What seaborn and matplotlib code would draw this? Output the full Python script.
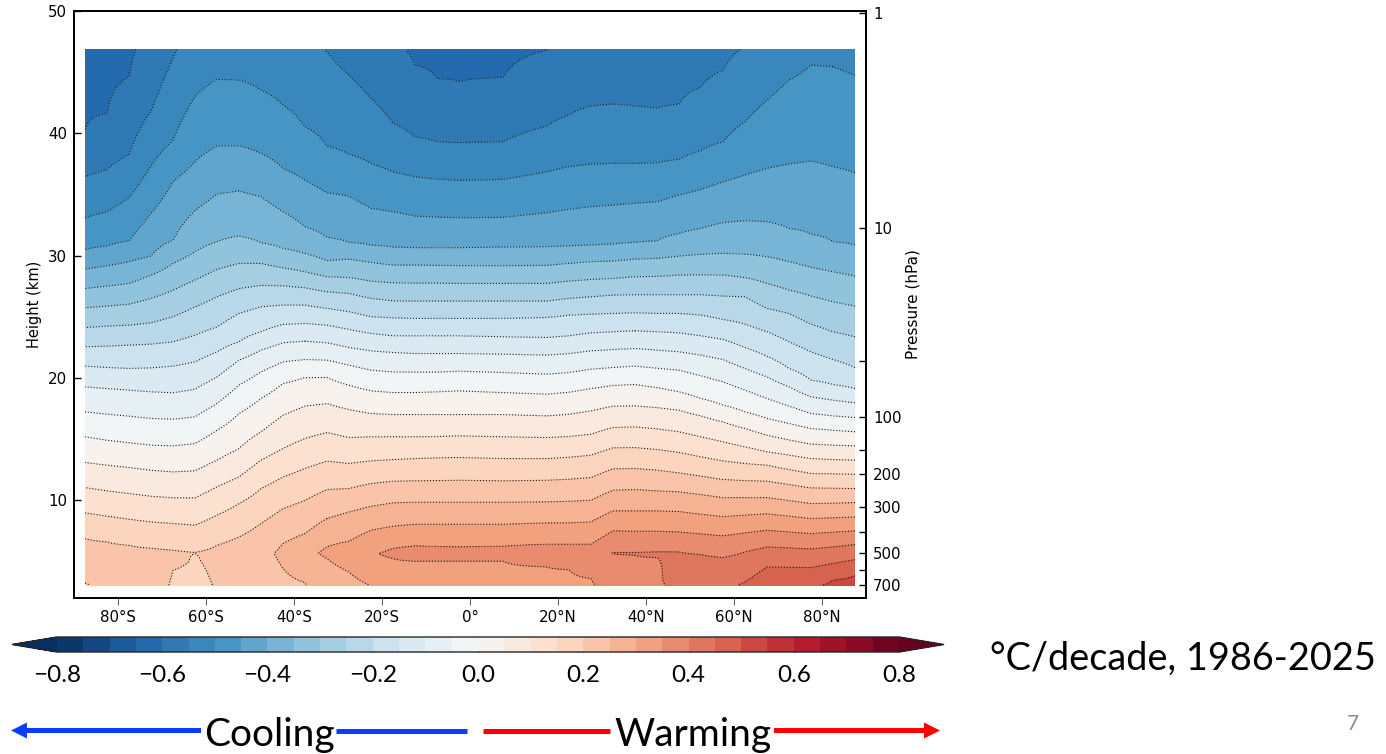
import numpy as np
import matplotlib
matplotlib.use("Agg")
import matplotlib.pyplot as plt
from matplotlib.patches import FancyArrowPatch
from matplotlib.lines import Line2D
import seaborn as sns

nan = np.nan
lats = [-87.5, -77.5, -67.5, -62.5, -57.5, -52.5, -47.5, -42.5, -37.5, -32.5, -22.5, -12.5,
        -2.5, 7.5, 17.5, 27.5, 32.5, 37.5, 42.5, 47.5, 57.5, 67.5, 77.5, 87.5]

# Heights (km) of each trend contour, read per latitude column
iso_m60 = [40.21, 44.63, 53.5, 55, 56, 56, 56, 56, 55, 53, 49.5, 45.58, 44.22, 44.57, 46.8, 49.5, 51, 52, 53, 54, 56, 58, 58, 58]
iso_m55 = [36.45, 38.3, 46.16, 50.46, 52.5, 53, 52, 50.4, 48.5, 46.67, 42.86, 39.72, 39.23, 39.31, 40.59, 42.23, 42.39, 42.23, 42.04, 42.39, 45.17, 49.15, 51, 52]
iso_m50 = [33.09, 34.73, 39.45, 43.0, 44.41, 44.36, 43.54, 42.31, 40.54, 38.96, 37.54, 36.45, 36.15, 36.23, 36.86, 37.48, 37.54, 37.54, 37.59, 37.87, 39.31, 42.72, 45.58, 44.76]
iso_m45 = [30.5, 31.21, 36.04, 37.68, 38.96, 38.98, 38.36, 37.13, 36.18, 35.14, 33.86, 33.23, 33.09, 33.12, 33.5, 34.0, 34.13, 34.27, 34.4, 34.95, 36.04, 37.13, 37.73, 36.78]
iso_m40 = [28.9, 29.5, 31.27, 33.67, 35.03, 35.28, 34.81, 33.59, 32.36, 31.49, 30.86, 30.64, 30.64, 30.7, 30.72, 30.86, 30.94, 31.08, 31.21, 31.81, 32.69, 32.77, 31.76, 30.86]
iso_m35 = [27.31, 27.72, 29.36, 30.31, 31.13, 31.6, 31.05, 30.59, 30.18, 29.58, 29.44, 29.22, 29.17, 29.17, 29.2, 29.5, 29.55, 29.71, 29.77, 29.96, 30.18, 29.9, 29.03, 28.32]
iso_m30 = [25.73, 26.03, 27.18, 28.0, 28.87, 29.36, 29.36, 29.0, 28.68, 28.27, 27.91, 27.75, 27.72, 27.72, 27.72, 28.05, 28.13, 28.27, 28.3, 28.41, 28.41, 27.72, 26.69, 25.87]
iso_m25 = [24.12, 24.31, 25.0, 25.8, 26.63, 27.29, 27.56, 27.53, 27.37, 27.04, 26.5, 26.28, 26.28, 26.28, 26.28, 26.63, 26.77, 26.8, 26.8, 26.8, 26.69, 25.68, 24.39, 23.36]
iso_m20 = [22.54, 22.68, 22.95, 23.49, 24.17, 25.27, 25.81, 25.95, 25.95, 25.68, 25.0, 24.86, 24.86, 24.86, 24.94, 25.21, 25.27, 25.32, 25.27, 25.27, 24.78, 23.77, 22.13, 20.85]
iso_m15 = [20.96, 20.77, 20.96, 21.31, 22.13, 22.95, 23.77, 24.37, 24.45, 24.31, 23.63, 23.44, 23.44, 23.36, 23.3, 23.68, 23.77, 23.85, 23.77, 23.68, 23.14, 21.77, 19.81, 19.13]
iso_m10 = [19.27, 19.0, 18.78, 19.08, 20.08, 21.45, 22.27, 22.87, 23.0, 22.87, 22.21, 21.99, 21.99, 21.94, 21.86, 22.21, 22.32, 22.4, 22.27, 22.13, 21.5, 20.08, 18.45, 17.96]
iso_m05 = [17.22, 16.87, 16.62, 16.81, 17.9, 19.4, 20.49, 21.31, 21.5, 21.45, 20.63, 20.47, 20.55, 20.44, 20.3, 20.71, 20.85, 20.96, 20.79, 20.63, 19.68, 18.31, 17.09, 16.76]
iso_p00 = [15.18, 14.69, 14.44, 14.63, 15.72, 17.09, 18.31, 19.54, 20.03, 20.03, 18.94, 18.8, 18.94, 18.8, 18.67, 19.13, 19.38, 19.46, 19.2, 18.86, 17.77, 16.68, 15.86, 15.59]
iso_p05 = [13.08, 12.67, 12.31, 12.4, 13.27, 14.22, 15.59, 16.95, 17.69, 17.9, 17.09, 17.0, 17.0, 17.0, 16.89, 17.3, 17.69, 17.71, 17.57, 17.36, 16.4, 15.31, 14.58, 14.44]
iso_p10 = [11.03, 10.54, 10.19, 10.19, 11.09, 11.9, 13.27, 14.22, 15.04, 15.53, 15.18, 15.18, 15.26, 15.18, 15.12, 15.39, 15.94, 15.99, 15.83, 15.59, 14.77, 13.95, 13.4, 13.27]
iso_p15 = [8.96, 8.44, 8.09, 7.95, 8.77, 9.72, 10.95, 11.9, 12.59, 13.19, 13.21, 13.4, 13.49, 13.4, 13.4, 13.68, 14.28, 14.3, 14.14, 13.9, 13.21, 12.86, 12.18, 12.12]
iso_p20 = [6.86, 6.31, 5.91, 5.72, 6.31, 6.99, 8.09, 9.31, 9.98, 10.87, 11.36, 11.58, 11.63, 11.58, 11.63, 11.85, 12.56, 12.59, 12.45, 12.23, 11.69, 11.55, 11.0, 10.95]
iso_p25 = [nan, nan, nan, nan, nan, nan, nan, 6.45, 7.27, 8.5, 9.5, 9.83, 9.83, 9.83, 9.86, 9.99, 10.81, 10.87, 10.76, 10.68, 10.21, 10.21, 9.72, 9.8]
iso_p30 = [nan, nan, nan, nan, nan, nan, nan, nan, nan, 6.18, 7.54, 8.03, 8.03, 8.03, 8.14, 8.22, 9.12, 9.12, 9.12, 9.07, 8.66, 8.88, 8.5, 8.63]
iso_p35 = [nan, nan, nan, nan, nan, nan, nan, nan, nan, nan, nan, 6.26, 6.18, 6.23, 6.4, 6.4, 7.49, 7.46, 7.46, 7.4, 7.08, 7.54, 7.27, 7.49]
iso_p40 = [nan, nan, nan, nan, nan, nan, nan, nan, nan, nan, nan, nan, nan, nan, nan, nan, 5.72, 5.72, 5.77, 5.77, 5.31, 6.18, 6.01, 6.37]
iso_p45 = [nan, nan, nan, nan, nan, nan, nan, nan, nan, nan, nan, nan, nan, nan, nan, nan, nan, nan, nan, nan, nan, 4.54, 4.49, 5.14]
iso_p50 = [nan, nan, nan, nan, nan, nan, nan, nan, nan, nan, nan, nan, nan, nan, nan, nan, nan, nan, nan, nan, nan, nan, 2.85, 3.81]

# Lower branches, under the tropospheric maximum
low_p20 = [3.23, 2.09, 4.27, 5.63, 1.8, nan, nan, nan, nan, nan, nan, nan, nan, nan, nan, nan, nan, nan, nan, nan, nan, nan, nan, nan]
low_p25 = [nan, nan, nan, nan, nan, nan, nan, 4.41, 3.26, 1.8, nan, nan, nan, nan, nan, nan, nan, nan, nan, nan, nan, nan, nan, nan]
low_p30 = [nan, nan, nan, nan, nan, nan, nan, nan, nan, 5.22, 3.0, nan, nan, nan, nan, nan, nan, nan, nan, nan, nan, nan, nan, nan]
low_p35 = [nan, nan, nan, nan, nan, nan, nan, nan, nan, nan, nan, 5.01, 5.03, 5.03, 4.54, 3.59, 1.95, nan, nan, nan, nan, nan, nan, nan]
low_p40 = [nan, nan, nan, nan, nan, nan, nan, nan, nan, nan, nan, nan, nan, nan, nan, nan, 5.63, 5.5, 5.31, 1.5, nan, nan, nan, nan]

# Tropospheric maximum (height, trend) and near-surface trend per column
peak_z = [5.0, 4.5, 5.0, 5.68, 5.0, 5.5, 5.7, 5.63, 5.63, 5.7, 5.63, 5.63, 5.63, 5.63, 5.63, 5.63, 5.67, 5.6, 5.55, 3.5, 2.5, 2.5, 2.0, 2.0]
peak_v = [0.22, 0.22, 0.215, 0.201, 0.215, 0.225, 0.235, 0.26, 0.285, 0.31, 0.345, 0.375, 0.38, 0.38, 0.385, 0.39, 0.401, 0.405, 0.41, 0.43, 0.445, 0.49, 0.51, 0.535]
floor_v = [0.18, 0.19, 0.19, 0.16, 0.19, 0.205, 0.21, 0.225, 0.235, 0.24, 0.29, 0.31, 0.32, 0.32, 0.325, 0.335, 0.345, 0.36, 0.375, 0.39, 0.44, 0.48, 0.5, 0.52]

# Further latitude columns read where the contours bend most
lats_b = [-82.5, -72.5, -27.5, -17.5, -7.5, 22.5, 52.5, 62.5, 72.5, 82.5]
iso_m60b = [41.63, 48.94, 51, 47.63, 44.49, 48.72, 55, 57, 58, 58]
iso_m55b = [37.05, 41.82, 44.77, 40.81, 39.31, 41.5, 43.76, 47.14, 50, 51.5]
iso_m50b = [33.59, 37.32, 38.28, 36.86, 36.26, 37.27, 38.58, 40.95, 44.36, 45.45]
iso_m45b = [30.78, 33.45, 34.87, 33.59, 33.15, 33.78, 35.41, 36.59, 37.48, 37.27]
iso_m40b = [29.17, 29.96, 31.08, 30.7, 30.64, 30.8, 32.22, 32.85, 32.22, 31.13]
iso_m35b = [27.5, 28.4, 29.71, 29.22, 29.2, 29.36, 30.1, 30.12, 29.5, 28.68]
iso_m30b = [25.87, 26.5, 28.2, 27.78, 27.75, 27.91, 28.43, 28.2, 27.18, 26.22]
iso_m25b = [24.23, 24.5, 26.9, 26.3, 26.28, 26.5, 26.8, 26.63, 25.27, 23.77]
iso_m20b = [22.59, 22.76, 25.41, 24.91, 24.86, 25.13, 25.13, 24.39, 22.95, 21.5]
iso_m15b = [20.85, 20.82, 23.96, 23.44, 23.44, 23.44, 23.44, 22.48, 20.77, 19.46]
iso_m10b = [19.13, 18.86, 22.48, 22.08, 21.99, 21.99, 21.86, 20.77, 19.27, 18.18]
iso_m05b = [17.03, 16.68, 21.04, 20.49, 20.47, 20.44, 20.17, 19.0, 17.69, 16.89]
iso_p00b = [14.9, 14.5, 19.4, 18.8, 18.86, 18.83, 18.31, 17.22, 16.27, 15.72]
iso_p05b = [12.86, 12.45, 17.41, 17.0, 17.0, 17.03, 16.89, 15.86, 14.92, 14.5]
iso_p10b = [10.76, 10.32, 15.12, 15.18, 15.2, 15.2, 15.18, 14.36, 13.68, 13.32]
iso_p15b = [8.69, 8.22, 13.0, 13.32, 13.46, 13.51, 13.54, 13.0, 12.5, 12.15]
iso_p20b = [6.59, 6.07, 10.95, 11.55, 11.6, 11.71, 11.96, 11.6, 11.28, 10.98]
iso_p25b = [nan, nan, 9.04, 9.78, 9.83, 9.91, 10.46, 10.21, 9.97, 9.75]
iso_p30b = [nan, nan, 6.64, 7.87, 8.03, 8.14, 8.85, 8.77, 8.69, 8.56]
iso_p35b = [nan, nan, nan, 6.04, 6.21, 6.4, 7.24, 7.32, 7.4, 7.38]
iso_p40b = [nan, nan, nan, nan, nan, nan, 5.55, 5.77, 6.1, 6.18]
iso_p45b = [nan, nan, nan, nan, nan, nan, nan, 3.31, 4.52, 4.81]
iso_p50b = [nan, nan, nan, nan, nan, nan, nan, nan, nan, 3.45]
low_p20b = [2.5, nan, nan, nan, nan, nan, nan, nan, nan, nan]
low_p25b = [nan] * 10
low_p30b = [nan, nan, 4.13, nan, nan, nan, nan, nan, nan, nan]
low_p35b = [nan, nan, nan, 5.22, 5.03, 4.32, nan, nan, nan, nan]
low_p40b = [nan] * 10
peak_zb = [4.7, 4.7, 5.7, 5.63, 5.63, 5.63, 3.0, 2.5, 2.0, 2.0]
peak_vb = [0.22, 0.22, 0.33, 0.36, 0.378, 0.387, 0.437, 0.47, 0.495, 0.52]
floor_vb = [0.185, 0.212, 0.265, 0.295, 0.315, 0.33, 0.42, 0.46, 0.49, 0.51]

upper_lines = {-0.60: iso_m60 + iso_m60b, -0.55: iso_m55 + iso_m55b, -0.50: iso_m50 + iso_m50b,
               -0.45: iso_m45 + iso_m45b, -0.40: iso_m40 + iso_m40b, -0.35: iso_m35 + iso_m35b,
               -0.30: iso_m30 + iso_m30b, -0.25: iso_m25 + iso_m25b, -0.20: iso_m20 + iso_m20b,
               -0.15: iso_m15 + iso_m15b, -0.10: iso_m10 + iso_m10b, -0.05: iso_m05 + iso_m05b,
               0.0: iso_p00 + iso_p00b, 0.05: iso_p05 + iso_p05b, 0.10: iso_p10 + iso_p10b,
               0.15: iso_p15 + iso_p15b, 0.20: iso_p20 + iso_p20b, 0.25: iso_p25 + iso_p25b,
               0.30: iso_p30 + iso_p30b, 0.35: iso_p35 + iso_p35b, 0.40: iso_p40 + iso_p40b,
               0.45: iso_p45 + iso_p45b, 0.50: iso_p50 + iso_p50b}
lower_lines = {0.20: low_p20 + low_p20b, 0.25: low_p25 + low_p25b, 0.30: low_p30 + low_p30b,
               0.35: low_p35 + low_p35b, 0.40: low_p40 + low_p40b}
peak_z_all = peak_z + peak_zb
peak_v_all = peak_v + peak_vb
floor_all = floor_v + floor_vb

xticks = [-80, -60, -40, -20, 0, 20, 40, 60, 80]
xlabels = ['80°S', '60°S', '40°S', '20°S', '0°', '20°N', '40°N', '60°N', '80°N']
yticks = [10, 20, 30, 40, 50]
p_heights = [49.86, 32.29, 21.37, 16.79, 14.09, 12.13, 9.43, 7.38, 5.66, 4.27, 3.03]
p_labels = ['1', '10', '', '100', '', '200', '300', '', '500', '', '700']
cb_ticks = [-0.8, -0.6, -0.4, -0.2, 0, 0.2, 0.4, 0.6, 0.8]
z_bottom, z_top = 3.05, 46.87

# Column profiles on a height grid
all_lats = np.array(lats + lats_b)
order = np.argsort(all_lats)
zgrid = np.arange(z_bottom, z_top + 0.02, 0.05)
Z = np.zeros((zgrid.size, all_lats.size))
for col, i in enumerate(order):
    pts = [(1.0, floor_all[i]), (peak_z_all[i], peak_v_all[i]), (62.0, -0.65)]
    for group in (upper_lines, lower_lines):
        for v, arr in group.items():
            if not np.isnan(arr[i]):
                pts.append((arr[i], v))
    pts.sort()
    Z[:, col] = np.interp(zgrid, [p[0] for p in pts], [p[1] for p in pts])

sns.set_theme(style="ticks")
plt.rcParams['font.family'] = ['DejaVu Sans']
plt.rcParams.update({'text.color': 'black', 'axes.labelcolor': 'black',
                     'xtick.color': 'black', 'ytick.color': 'black'})
W, H = 1386, 754
fig = plt.figure(figsize=(W / 100, H / 100), dpi=100, facecolor='white')
ax = fig.add_axes([74 / W, (H - 598) / H, 792 / W, 587 / H])

levels = np.round(np.arange(-0.8, 0.8001, 0.05), 2)
cmap = sns.color_palette("RdBu_r", as_cmap=True)
cf = ax.contourf(all_lats[order], zgrid, Z, levels=levels, cmap=cmap, extend='both')
ax.contour(all_lats[order], zgrid, Z, levels=levels, colors='k', linewidths=0.8, linestyles=':')

dv = 'DejaVu Sans'
ax.set_xlim(-90, 90)
ax.set_ylim(2, 50)
ax.set_xticks(xticks, xlabels)
ax.set_yticks(yticks)
ax.tick_params(axis='x', direction='out', length=5, width=0.7, color='#555555', pad=4,
               labelsize=10.8, labelfontfamily=dv)
ax.tick_params(axis='y', direction='in', length=5, width=1.0, color='black', labelsize=10.8,
               labelfontfamily=dv, pad=5, left=True)
ax.set_ylabel('Height (km)', fontsize=10.5, labelpad=4, family=dv)
for s in ax.spines.values():
    s.set_linewidth(1.3)
    s.set_color('black')

ax2 = ax.twinx()
ax2.set_ylim(2, 50)
ax2.set_yticks(p_heights, p_labels)
ax2.tick_params(axis='y', direction='in', length=5, width=1.0, color='black', pad=5, right=True,
                labelsize=10.8, labelfontfamily=dv)
ax2.set_ylabel('Pressure (hPa)', fontsize=11, labelpad=3, family=dv)
for s in ax2.spines.values():
    s.set_linewidth(1.3)
    s.set_color('black')

cax = fig.add_axes([12 / W, (H - 652) / H, 932 / W, 15 / H])
cb = fig.colorbar(cf, cax=cax, orientation='horizontal', extendfrac=0.0534, ticks=cb_ticks)
cb.ax.tick_params(direction='in', length=5, width=0.9, color='black', pad=9, labelsize=17.5,
                  labelfontfamily='Lato')
cb.outline.set_linewidth(1.0)

big = dict(family='Lato', color='black', va='center')
fig.text(990 / W, 1 - 659 / H, '°C/decade, 1986-2025', fontsize=27.3, ha='left', **big)
fig.text(269 / W, 1 - 735 / H, 'Cooling', fontsize=28, ha='center', **big)
fig.text(693 / W, 1 - 735 / H, 'Warming', fontsize=28, ha='center', **big)
fig.text(1353 / W, 1 - 724 / H, '7', fontsize=15, ha='center', va='center', family='Lato', color='#8c8c8c')

BLUE, RED = '#0B3DFF', '#FF0000'


def fx(p):
    return (p[0] / W, 1 - p[1] / H)


def arrow(a, b, color):
    fig.add_artist(FancyArrowPatch(fx(a), fx(b), transform=fig.transFigure, shrinkA=0, shrinkB=0,
                                   arrowstyle='simple,head_length=11.5,head_width=11.5,tail_width=3.6',
                                   mutation_scale=1, color=color, lw=0))


def bar(a, b, color):
    fig.add_artist(Line2D([a[0] / W, b[0] / W], [1 - a[1] / H, 1 - b[1] / H], transform=fig.transFigure,
                          color=color, lw=3.6, solid_capstyle='butt'))


arrow((201, 730.5), (11, 730.5), BLUE)
bar((336, 730.5), (467, 730.5), BLUE)
bar((483, 730.5), (610, 730.5), RED)
arrow((774, 730.5), (940, 730.5), RED)

fig.savefig('out.png', dpi=100, facecolor='white')
